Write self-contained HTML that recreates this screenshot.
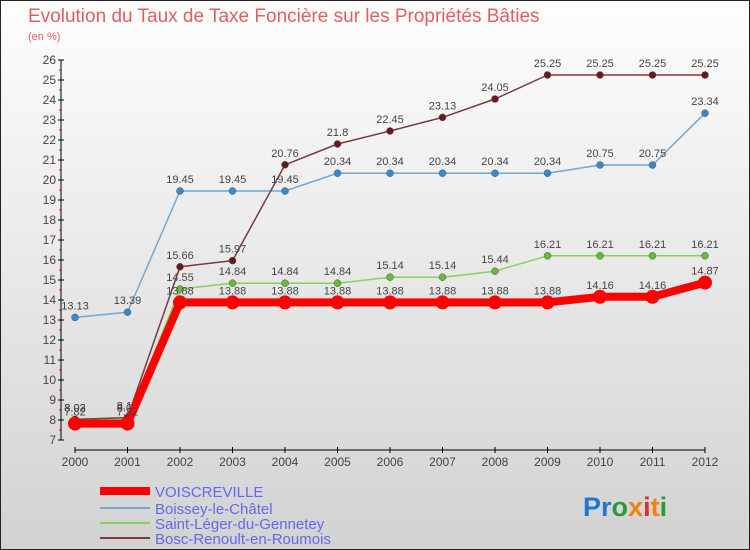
<!DOCTYPE html>
<html><head><meta charset="utf-8"><style>
body{margin:0}
#wrap{position:relative;width:750px;height:550px;overflow:hidden;background:linear-gradient(#fefefe,#d2d2d2);font-family:"Liberation Sans",sans-serif}
</style></head><body>
<div id="wrap">
<svg id="c" width="750" height="550" xmlns="http://www.w3.org/2000/svg">
<rect x="0.5" y="0.5" width="749" height="549" fill="none" stroke="#222"/>
<text x="28" y="22" font-size="19" fill="#e06060">Evolution du Taux de Taxe Foncière sur les Propriétés Bâties</text>
<text x="28" y="40" font-size="11" fill="#e06060">(en %)</text>
<g id="axes"></g><g id="series"></g><g id="legend"></g>
<text x="583" y="516" font-size="27" font-weight="bold"><tspan fill="#1a7ad0">Pr</tspan><tspan fill="#2a9a3a">o</tspan><tspan fill="#f08010">x</tspan><tspan fill="#1a7ad0"></tspan><tspan fill="#e03020">i</tspan><tspan fill="#f08010">t</tspan><tspan fill="#2a9a3a">i</tspan></text>
</svg>
</div>
<script>
const years=[2000,2001,2002,2003,2004,2005,2006,2007,2008,2009,2010,2011,2012];
const voiscreville=[7.82,7.82,13.88,13.88,13.88,13.88,13.88,13.88,13.88,13.88,14.16,14.16,14.87];
const boissey=[13.13,13.39,19.45,19.45,19.45,20.34,20.34,20.34,20.34,20.34,20.75,20.75,23.34];
const saintLeger=[8.02,8.02,14.55,14.84,14.84,14.84,15.14,15.14,15.44,16.21,16.21,16.21,16.21];
const bosc=[8.03,8.12,15.66,15.97,20.76,21.8,22.45,23.13,24.05,25.25,25.25,25.25,25.25];
const yTicks=[7,8,9,10,11,12,13,14,15,16,17,18,19,20,21,22,23,24,25,26];
const seriesNames=["VOISCREVILLE","Boissey-le-Châtel","Saint-Léger-du-Gennetey","Bosc-Renoult-en-Roumois"];
const NS="http://www.w3.org/2000/svg";
function X(i){return 75+i*(705-75)/(years.length-1);}
function Y(v){return 440-(v-7)*20;}
function mk(p,tag,at){const e=document.createElementNS(NS,tag);for(const k in at)e.setAttribute(k,at[k]);p.appendChild(e);return e;}
const ax=document.getElementById('axes');
let l=mk(ax,'line',{x1:61,y1:Y(26),x2:61,y2:Y(7),stroke:'#000'});


yTicks.forEach(t=>{
 let k=mk(ax,'line',{x1:58,y1:Y(t),x2:64,y2:Y(t),stroke:'#000'});
 
 
 let tx=mk(ax,'text',{x:56,y:Y(t)+4,'font-size':12,'text-anchor':'end',fill:'#444'});
 tx.textContent=t;
 
 
 if(t<26){let h=mk(ax,'line',{x1:59,y1:Y(t+0.5),x2:62,y2:Y(t+0.5),stroke:'#e00'});
 
 }
});
l=mk(ax,'line',{x1:75,y1:450,x2:705,y2:450,stroke:'#000'});


years.forEach((y,i)=>{
 let k=mk(ax,'line',{x1:X(i),y1:447,x2:X(i),y2:453,stroke:'#000'});
 
 
 let tx=mk(ax,'text',{x:X(i),y:466,'font-size':12,'text-anchor':'middle',fill:'#444'});
 tx.textContent=y;
 
 
});
const sg=document.getElementById('series');
const styles=[
 {data:voiscreville,color:'#f00',w:8,r:7,dot:'#f00'},
 {data:boissey,color:'#6fa8d8',w:1.5,r:3.5,dot:'#3a88cc'},
 {data:saintLeger,color:'#88d060',w:1.5,r:3.5,dot:'#66bb33'},
 {data:bosc,color:'#7a3a3a',w:1.5,r:3.5,dot:'#6a1a1a'}];
[1,2,3,0].forEach(si=>{
 const s=styles[si];
 let p=mk(sg,'polyline',{points:s.data.map((v,i)=>X(i)+','+Y(v)).join(' '),fill:'none',stroke:s.color,'stroke-width':s.w,'stroke-linejoin':'round'});
 
 
 s.data.forEach((v,i)=>{
  let c=mk(sg,'circle',{cx:X(i),cy:Y(v),r:s.r,fill:s.dot,stroke:si?'#555':'none','stroke-width':0.5});
  
  
  let t=mk(sg,'text',{x:X(i),y:Y(v)-8,'font-size':11,'text-anchor':'middle',fill:'#444'});
  t.textContent=v;
  
  
 });
});
const lg=document.getElementById('legend');
const lys=[491,508,523,538];
seriesNames.forEach((n,i)=>{
 const s=styles[i];
 let ln=mk(lg,'line',{x1:100,y1:lys[i],x2:150,y2:lys[i],stroke:s.color,'stroke-width':i?2:8});
 
 
 let t=mk(lg,'text',{x:155,y:lys[i]+6,'font-size':15,fill:'#6666ee'});
 t.textContent=n;
 
 
});
</script>
</body></html>
